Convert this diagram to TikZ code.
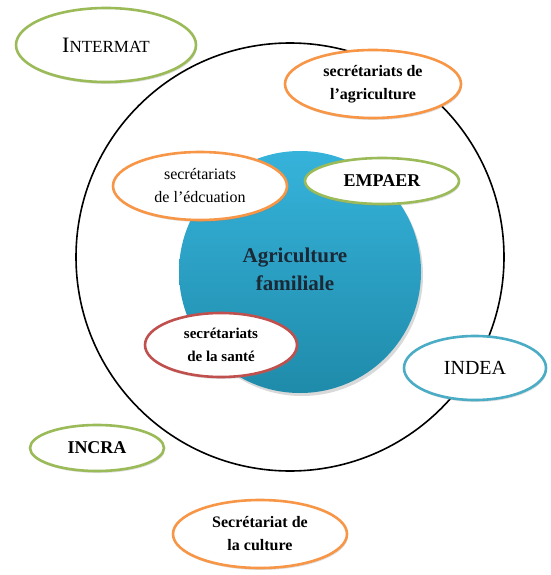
\documentclass[tikz,border=0pt]{standalone}
\usepackage{fontspec}
\setmainfont{Liberation Serif}
\usetikzlibrary{shapes.geometric,shadows}
\definecolor{ogreen}{HTML}{9BBB59}
\definecolor{oorange}{HTML}{F79646}
\definecolor{ored}{HTML}{C0504D}
\definecolor{oblue}{HTML}{4BACC6}
\definecolor{ctop}{HTML}{36B3DB}
\definecolor{cbot}{HTML}{1F8BAA}
\definecolor{navy}{HTML}{1B2836}
\tikzset{
  bub/.style={ellipse, draw, line width=2.6pt, fill=white, inner sep=0pt, align=center,
    font=\fontsize{16}{22}\selectfont, drop shadow={shadow xshift=1pt, shadow yshift=-2pt, opacity=0.25}},
  gbub/.style={bub, draw=ogreen},
  obub/.style={bub, draw=oorange},
  rbub/.style={bub, draw=ored},
  bbub/.style={bub, draw=oblue},
}
\begin{document}
\begin{tikzpicture}[x=1pt,y=-1pt]
\useasboundingbox (0,0) rectangle (550,575);
% outer circle
\node[circle, draw=black, line width=1.6pt, minimum size=428pt, inner sep=0pt] (outer) at (290,257) {};
% central circle
\node[circle, minimum size=242pt, inner sep=0pt, top color=ctop, bottom color=cbot,
  drop shadow={shadow xshift=2pt, shadow yshift=-3pt, opacity=0.3}] (center) at (300,272) {};
\node[font=\fontsize{21}{28}\selectfont\bfseries, text=navy, align=center] (ctext) at (295,269) {Agriculture\\familiale};
% bubbles
\node[gbub, minimum width=180pt, minimum height=74pt] (intermat) at (106,45)
  {{\fontsize{22}{22}\selectfont I}{\fontsize{17}{22}\selectfont NTERMAT}};
\node[obub, minimum width=176pt, minimum height=68pt, font=\fontsize{16}{23}\selectfont\bfseries] (agri) at (373,84)
  {secrétariats de\\l’agriculture};
\node[obub, minimum width=174pt, minimum height=68pt, font=\fontsize{16}{23}\selectfont] (edu) at (200,186)
  {secrétariats\\de l’édcuation};
\node[gbub, minimum width=154pt, minimum height=46pt, font=\fontsize{18}{22}\selectfont\bfseries] (empaer) at (382,181)
  {EMPAER};
\node[rbub, minimum width=152pt, minimum height=64pt, font=\fontsize{15}{23}\selectfont\bfseries] (sante) at (221,345)
  {secrétariats\\de la santé};
\node[bbub, minimum width=142pt, minimum height=64pt, font=\fontsize{20}{22}\selectfont] (indea) at (475,368)
  {INDEA};
\node[gbub, minimum width=134pt, minimum height=46pt, font=\fontsize{18}{22}\selectfont\bfseries] (incra) at (97,448)
  {INCRA};
\node[obub, minimum width=174pt, minimum height=68pt, font=\fontsize{16}{23}\selectfont\bfseries] (culture) at (260,534)
  {Secrétariat de\\la culture};
\end{tikzpicture}
\end{document}
